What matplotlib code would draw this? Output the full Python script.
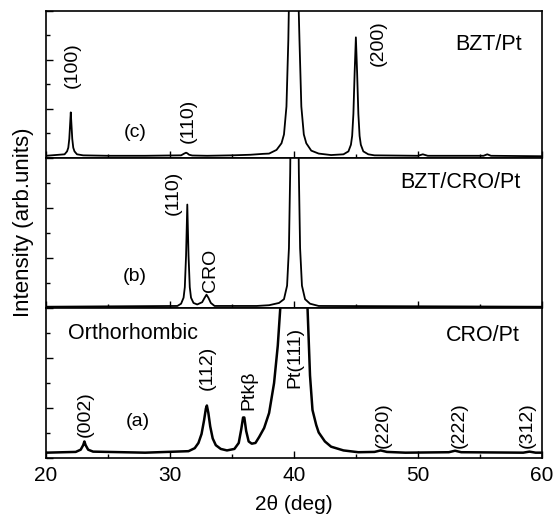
#!/usr/bin/env python3
"""XRD patterns of BZT/Pt, BZT/CRO/Pt and CRO/Pt stacked in three panels."""

from __future__ import annotations

import matplotlib

matplotlib.use("Agg")
import matplotlib.pyplot as plt
from matplotlib.ticker import MultipleLocator, AutoMinorLocator

# (c) BZT/Pt, intensity in panel units (1.0 = panel top)
tt_c = [20.0, 21.5, 21.7, 21.8, 21.88, 21.94, 22.0, 22.06, 22.12, 22.2, 22.3, 22.5,
        23.0, 25.0, 28.0, 30.9, 31.15, 31.3, 31.4, 31.55, 31.8, 33.0, 35.0, 36.5,
        37.5, 38.0, 38.6, 39.0, 39.2, 39.4, 39.55, 39.65, 40.3, 40.45, 40.6, 40.8,
        41.0, 41.4, 42.0, 43.0, 44.0, 44.4, 44.6, 44.7, 44.8, 44.9, 45.0, 45.1,
        45.2, 45.3, 45.4, 45.6, 46.0, 46.5, 50.0, 50.4, 50.8, 55.3, 55.6, 55.9,
        60.0]
int_c = [0.015, 0.025, 0.045, 0.07, 0.13, 0.22, 0.31, 0.22, 0.13, 0.07, 0.045, 0.025,
         0.018, 0.015, 0.015, 0.018, 0.03, 0.036, 0.032, 0.022, 0.017, 0.015, 0.018, 0.022,
         0.028, 0.03, 0.055, 0.1, 0.16, 0.35, 0.8, 1.3, 1.3, 0.8, 0.35, 0.16,
         0.1, 0.05, 0.03, 0.02, 0.025, 0.045, 0.09, 0.15, 0.3, 0.58, 0.82, 0.58,
         0.3, 0.15, 0.09, 0.045, 0.025, 0.018, 0.015, 0.025, 0.015, 0.015, 0.025, 0.015,
         0.012]

# (b) BZT/CRO/Pt
tt_b = [20.0, 30.6, 30.9, 31.1, 31.2, 31.3, 31.4, 31.5, 31.6, 31.7, 31.9, 32.2,
        32.6, 32.8, 32.95, 33.1, 33.3, 33.6, 37.0, 38.0, 38.8, 39.2, 39.45, 39.6,
        39.7, 39.75, 40.35, 40.4, 40.5, 40.65, 40.9, 41.3, 42.0, 60.0]
int_b = [0.01, 0.015, 0.03, 0.07, 0.14, 0.35, 0.69, 0.35, 0.14, 0.07, 0.035, 0.025,
         0.04, 0.07, 0.09, 0.07, 0.035, 0.015, 0.015, 0.02, 0.035, 0.06, 0.15, 0.4,
         0.9, 1.3, 1.3, 0.9, 0.4, 0.15, 0.06, 0.03, 0.015, 0.01]

# (a) CRO/Pt
tt_a = [20.0, 22.4, 22.8, 23.0, 23.1, 23.2, 23.4, 23.8, 28.0, 31.5, 32.0, 32.3,
        32.55, 32.75, 32.9, 32.98, 33.1, 33.25, 33.45, 33.7, 34.1, 34.6, 35.2, 35.55,
        35.75, 35.9, 36.0, 36.15, 36.35, 36.6, 36.9, 37.2, 37.6, 38.0, 38.4, 38.7,
        38.9, 39.1, 40.9, 41.1, 41.3, 41.5, 41.8, 42.0, 42.5, 43.0, 44.0, 45.2,
        46.5, 47.0, 47.5, 49.0, 52.5, 53.0, 53.5, 58.5, 59.0, 59.5, 60.0]
int_a = [0.035, 0.04, 0.055, 0.085, 0.11, 0.085, 0.055, 0.042, 0.035, 0.045, 0.065, 0.1,
         0.16, 0.25, 0.33, 0.35, 0.3, 0.21, 0.13, 0.085, 0.06, 0.05, 0.06, 0.1,
         0.19, 0.27, 0.27, 0.18, 0.11, 0.095, 0.1, 0.14, 0.2, 0.3, 0.5, 0.75,
         1.0, 1.3, 1.3, 1.0, 0.55, 0.32, 0.22, 0.17, 0.11, 0.075, 0.05, 0.038,
         0.04, 0.05, 0.04, 0.035, 0.038, 0.048, 0.038, 0.035, 0.042, 0.035, 0.035]

FONT = "Liberation Sans"


def style_axis(ax):
    ax.set_xlim(20, 60)
    ax.set_ylim(0, 1)
    ax.xaxis.set_major_locator(MultipleLocator(10))
    ax.xaxis.set_minor_locator(MultipleLocator(5))
    ax.yaxis.set_major_locator(MultipleLocator(1 / 3))
    ax.yaxis.set_minor_locator(AutoMinorLocator(2))
    ax.tick_params(which="both", direction="in", top=False, right=False, labelleft=False)
    ax.tick_params(which="major", length=5, width=1)
    ax.tick_params(which="minor", length=3, width=1)
    for sp in ax.spines.values():
        sp.set_linewidth(1.2)


def rot(ax, x, y, s):
    ax.text(x, y, s, rotation=90, ha="center", va="center", fontsize=14)


def main() -> None:
    plt.rcParams["font.family"] = [FONT, "DejaVu Sans"]
    fig = plt.figure(figsize=(5.54, 5.18), dpi=100)
    left, width = 0.083, 0.895
    ax_c = fig.add_axes([left, 0.695, width, 0.284])
    ax_b = fig.add_axes([left, 0.405, width, 0.290])
    ax_a = fig.add_axes([left, 0.116, width, 0.289])

    ax_c.plot(tt_c, int_c, color="black", lw=1.3)
    ax_b.plot(tt_b, int_b, color="black", lw=1.3)
    ax_a.plot(tt_a, int_a, color="black", lw=1.8)

    for ax in (ax_c, ax_b, ax_a):
        style_axis(ax)
    ax_c.tick_params(labelbottom=False)
    ax_b.tick_params(labelbottom=False)
    ax_a.tick_params(axis="x", labelsize=15, pad=6)

    # panel (c)
    rot(ax_c, 22.1, 0.63, "(100)")
    ax_c.text(27.2, 0.17, "(c)", ha="center", va="center", fontsize=14)
    rot(ax_c, 31.5, 0.25, "(110)")
    rot(ax_c, 46.8, 0.78, "(200)")
    ax_c.text(58.4, 0.77, "BZT/Pt", ha="right", va="center", fontsize=15.5)

    # panel (b)
    rot(ax_b, 30.3, 0.77, "(110)")
    rot(ax_b, 33.3, 0.25, "CRO")
    ax_b.text(27.2, 0.21, "(b)", ha="center", va="center", fontsize=14)
    ax_b.text(58.3, 0.84, "BZT/CRO/Pt", ha="right", va="center", fontsize=15.5)

    # panel (a)
    ax_a.text(21.8, 0.83, "Orthorhombic", ha="left", va="center", fontsize=15.5)
    rot(ax_a, 23.2, 0.29, "(002)")
    ax_a.text(27.4, 0.24, "(a)", ha="center", va="center", fontsize=14)
    rot(ax_a, 33.0, 0.6, "(112)")
    rot(ax_a, 36.4, 0.45, "Ptkβ")
    rot(ax_a, 40.1, 0.67, "Pt(111)")
    ax_a.text(58.2, 0.82, "CRO/Pt", ha="right", va="center", fontsize=15.5)
    rot(ax_a, 47.2, 0.22, "(220)")
    rot(ax_a, 53.3, 0.22, "(222)")
    rot(ax_a, 58.8, 0.22, "(312)")

    ax_a.set_xlabel("2θ (deg)", fontsize=15, labelpad=7)
    fig.text(0.043, 0.57, "Intensity (arb.units)", rotation=90,
             ha="center", va="center", fontsize=16)

    fig.savefig("out.png", dpi=100)
    plt.close(fig)


if __name__ == "__main__":
    main()
